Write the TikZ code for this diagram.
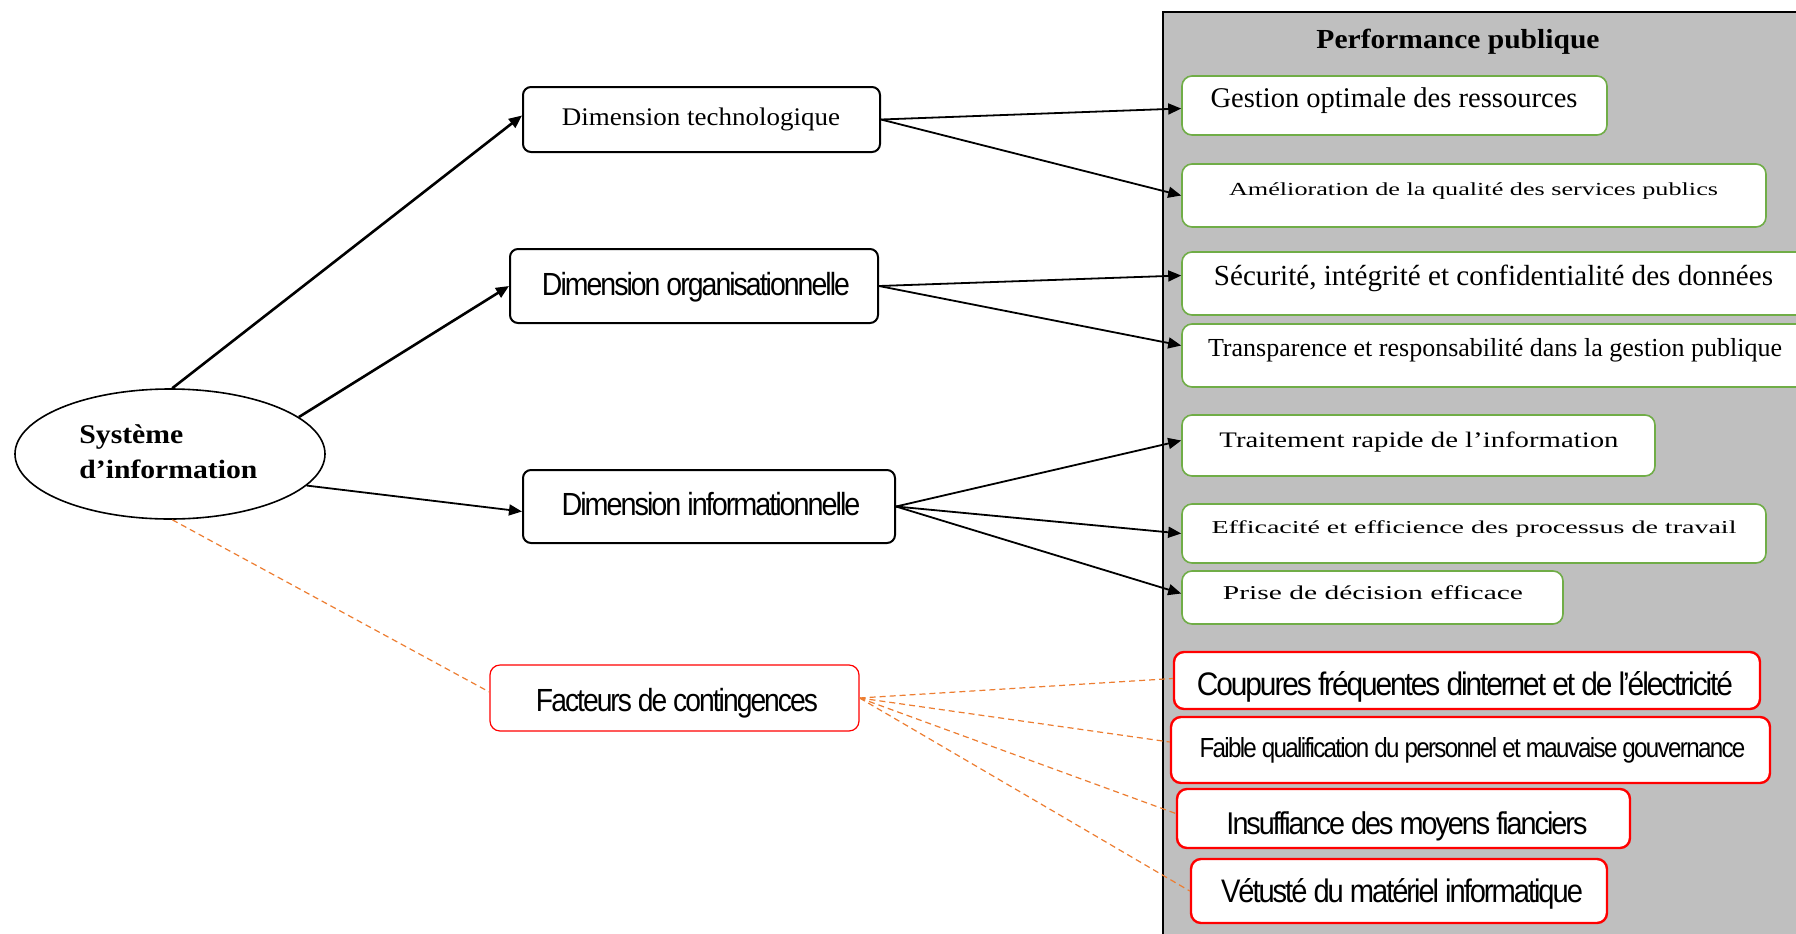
\documentclass[tikz,border=0pt]{standalone}
\usepackage{fontspec}
\setmainfont{Liberation Serif}
\setsansfont{Liberation Sans}
\newfontfamily\tightsans[LetterSpace=-7]{Liberation Sans}
\usetikzlibrary{shapes.geometric,arrows.meta,calc}
\definecolor{panel}{HTML}{BFBFBF}
\definecolor{grn}{HTML}{70AD47}
\definecolor{org}{HTML}{ED7D31}
\definecolor{rd}{HTML}{FF0000}
\newcommand{\fitbox}[3]{\resizebox{#1}{#2}{#3}}
\begin{document}
\begin{tikzpicture}[x=0.5pt,y=-0.5pt,
  dbox/.style={draw=black,line width=1pt,rounded corners=4pt,fill=white,inner sep=0pt},
  gbox/.style={draw=grn,line width=0.8pt,rounded corners=5pt,fill=white,inner sep=0pt},
  rbox/.style={draw=rd,line width=1.2pt,rounded corners=5pt,fill=white,inner sep=0pt},
  cbox/.style={draw=rd,line width=0.6pt,rounded corners=5pt,fill=white,inner sep=0pt},
  txt/.style={anchor=base,inner sep=0pt},
  arr/.style={line width=0.9pt,-{Triangle[length=6.5pt,width=5.5pt]}},
  arrthick/.style={line width=1.3pt,-{Triangle[length=6.5pt,width=5.5pt]}},
  dsh/.style={draw=org,line width=0.6pt,dash pattern=on 3pt off 2pt}
]
\clip (0,0) rectangle (1796,933);
\fill[white] (0,0) rectangle (1796,933);
% panel
\draw[fill=panel,line width=1pt] (1163,11.5) rectangle (1840,960);
\node[txt] (title) at (1458,48) {\fitbox{141.5pt}{9.7pt}{\bfseries Performance publique}};

% left ellipse
\node[draw,ellipse,line width=0.8pt,minimum width=155pt,minimum height=65pt,inner sep=0pt] (E) at (170,454) {};
\node[inner sep=0pt,anchor=base west] (Et1) at (79,443) {\fitbox{52pt}{9.4pt}{\bfseries Système}};
\node[inner sep=0pt,anchor=base west] (Et2) at (79,478) {\fitbox{89pt}{9.3pt}{\bfseries d’information}};

% dimension boxes
\node[dbox,minimum width=178.5pt,minimum height=32.5pt] (D1) at (701.5,119.5) {};
\node[dbox,minimum width=184pt,minimum height=37pt] (D2) at (694,286) {};
\node[dbox,minimum width=186pt,minimum height=36.5pt] (D3) at (709,506.5) {};
\node[cbox,minimum width=184.5pt,minimum height=33pt] (F) at (674.5,698) {};
\node[txt] (tD1) at (701,125) {\fitbox{139pt}{8.8pt}{Dimension technologique}};
\node[txt] (tD2) at (696,295) {\fitbox{154pt}{11.6pt}{\tightsans Dimension organisationnelle}};
\node[txt] (tD3) at (711,515) {\fitbox{149.5pt}{11.6pt}{\tightsans Dimension informationnelle}};
\node[txt] (tF) at (677,711) {\fitbox{141pt}{11.6pt}{\tightsans Facteurs de contingences}};

% green boxes
\node[gbox,minimum width=212.5pt,minimum height=29.5pt] (G1) at (1394.5,105.5) {};
\node[gbox,minimum width=292pt,minimum height=31.5pt] (G2) at (1474,195.5) {};
\node[gbox,minimum width=319pt,minimum height=31.5pt] (G3) at (1501,283.5) {};
\node[gbox,minimum width=319pt,minimum height=31.5pt] (G4) at (1501,355.5) {};
\node[gbox,minimum width=236.5pt,minimum height=30.5pt] (G5) at (1418.5,445.5) {};
\node[gbox,minimum width=292pt,minimum height=29.5pt] (G6) at (1474,533.5) {};
\node[gbox,minimum width=190.5pt,minimum height=26.5pt] (G7) at (1372.5,597.5) {};
\node[txt] (tG1) at (1394,107) {\fitbox{183.5pt}{!}{Gestion optimale des ressources}};
\node[txt] (tG2) at (1473.5,195) {\fitbox{244.5pt}{6.4pt}{Amélioration de la qualité des services publics}};
\node[txt] (tG3) at (1493.5,285) {\fitbox{279.5pt}{!}{Sécurité, intégrité et confidentialité des données}};
\node[txt] (tG4) at (1495,356) {\fitbox{287pt}{!}{Transparence et responsabilité dans la gestion publique}};
\node[txt] (tG5) at (1419,447) {\fitbox{199.5pt}{7.8pt}{Traitement rapide de l’information}};
\node[txt] (tG6) at (1474,533) {\fitbox{262.5pt}{6.4pt}{Efficacité et efficience des processus de travail}};
\node[txt] (tG7) at (1373,599) {\fitbox{150pt}{6.9pt}{Prise de décision efficace}};

% red boxes
\node[rbox,minimum width=293pt,minimum height=28.5pt] (R1) at (1467,680.5) {};
\node[rbox,minimum width=299.5pt,minimum height=33pt] (R2) at (1470.5,750) {};
\node[rbox,minimum width=226.5pt,minimum height=29.5pt] (R3) at (1403.5,818.5) {};
\node[rbox,minimum width=208pt,minimum height=32pt] (R4) at (1399,891) {};
\node[txt] (tR1) at (1465,695) {\fitbox{268pt}{12pt}{\tightsans Coupures fréquentes dinternet et de l’électricité}};
\node[txt] (tR2) at (1472.5,757) {\fitbox{273pt}{10pt}{\tightsans Faible qualification du personnel et mauvaise gouvernance}};
\node[txt] (tR3) at (1407,834) {\fitbox{180.5pt}{11.4pt}{\tightsans Insuffiance des moyens fianciers}};
\node[txt] (tR4) at (1402,902) {\fitbox{181pt}{12pt}{\tightsans Vétusté du matériel informatique}};

% connectors from ellipse
\draw[arrthick] (E.88) -- ($(D1.west)+(0,-4)$);
\draw[arrthick] (E.16) -- (D2.west);
\draw[arr] (E.-13) -- ($(D3.west)+(0,5)$);
\draw[dsh] (E.-88) -- ($(F.west)+(0,-6)$);

% connectors to performance
\draw[arr] (D1.east) -- ($(G1.west)+(0,3)$);
\draw[arr] (D1.east) -- (G2.west);
\draw[arr] (D2.east) -- ($(G3.west)+(0,-8)$);
\draw[arr] (D2.east) -- ($(G4.west)+(0,-10)$);
\draw[arr] (D3.east) -- ($(G5.west)+(0,-5)$);
\draw[arr] (D3.east) -- (G6.west);
\draw[arr] (D3.east) -- ($(G7.west)+(0,-4)$);

% contingency dashed links
\draw[dsh] (F.east) -- ($(R1.west)+(0,-2)$);
\draw[dsh] (F.east) -- ($(R2.west)+(0,-8)$);
\draw[dsh] (F.east) -- ($(R3.west)+(0,-5)$);
\draw[dsh] (F.east) -- (R4.west);
\end{tikzpicture}
\end{document}
